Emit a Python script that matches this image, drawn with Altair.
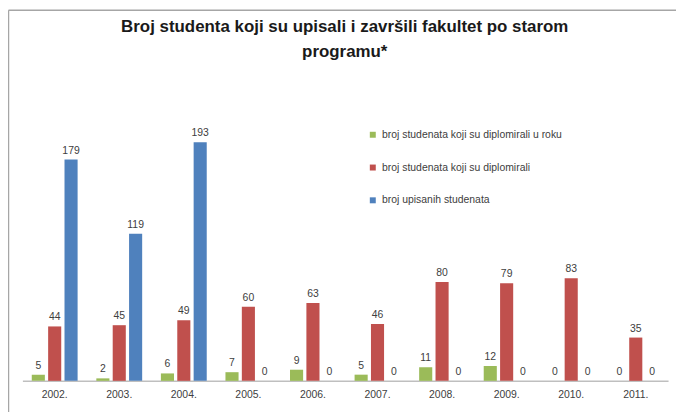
import altair as alt
import pandas as pd

years = ["2002.", "2003.", "2004.", "2005.", "2006.", "2007.", "2008.", "2009.", "2010.", "2011."]
series_names = [
    "broj studenata koji su diplomirali u roku",
    "broj studenata koji su diplomirali",
    "broj upisanih studenata",
]
u_roku = [5, 2, 6, 7, 9, 5, 11, 12, 0, 0]
diplomirali = [44, 45, 49, 60, 63, 46, 80, 79, 83, 35]
upisani = [179, 119, 193, 0, 0, 0, 0, 0, 0, 0]
colors = ["#9BBB59", "#C0504D", "#4F81BD"]
title_lines = ["Broj studenta koji su upisali i završili fakultet po starom", "programu*"]

rows = []
for s, vals in zip(series_names, [u_roku, diplomirali, upisani]):
    for yr, v in zip(years, vals):
        rows.append({"godina": yr, "serija": s, "broj": v})
df = pd.DataFrame(rows)
one = pd.DataFrame({"k": [0]})

FONT = "Liberation Sans"

x = alt.X(
    "godina:N", sort=years, title=None,
    scale=alt.Scale(paddingInner=0.29, paddingOuter=0.145),
    axis=alt.Axis(labelAngle=0, labelFontSize=10.5, labelColor="#404040", labelFont=FONT,
                  ticks=False, tickSize=0, labelPadding=9, domainColor="#bfbfbf",
                  domainWidth=1.5, grid=False),
)
xo = alt.XOffset("serija:N", sort=series_names, scale=alt.Scale(paddingInner=0.2, paddingOuter=0))
y = alt.Y("broj:Q", scale=alt.Scale(domain=[0, 200]), axis=None)
color = alt.Color(
    "serija:N", sort=series_names,
    scale=alt.Scale(domain=series_names, range=colors),
    legend=alt.Legend(title=None, orient="none", legendX=347.5, legendY=-4,
                      symbolType="square", symbolSize=36, symbolStrokeWidth=0,
                      labelFontSize=10.5, labelFont=FONT, labelColor="#404040",
                      rowPadding=22, labelOffset=4, direction="vertical", labelLimit=400),
)

base = alt.Chart(df)
bars = base.mark_bar().encode(x=x, xOffset=xo, y=y, color=color)
labels = base.mark_text(baseline="alphabetic", dy=-6, fontSize=10.5, color="#404040", font=FONT).encode(
    x=x, xOffset=xo, y=y, text="broj:Q"
)

title = alt.Chart(one).mark_text(
    text=title_lines, fontSize=17, fontWeight="bold", font=FONT, color="#1a1a1a",
    lineHeight=25, baseline="middle", align="center"
).encode(x=alt.value(324.5), y=alt.value(-107))

frame_top = alt.Chart(one).mark_rule(color="#a6a6a6", strokeWidth=1.5).encode(
    x=alt.value(-14), x2=alt.value(670), y=alt.value(-124)
)
frame_left = alt.Chart(one).mark_rule(color="#a6a6a6", strokeWidth=1.5).encode(
    x=alt.value(-14), y=alt.value(-124), y2=alt.value(300)
)

chart = alt.layer(frame_top, frame_left, bars, labels, title).properties(
    width=650, height=249,
    autosize=alt.AutoSizeParams(type="none"),
    padding={"left": 14.5, "top": 125, "right": 8, "bottom": 30},
).configure_view(stroke=None)

chart.save("out.html", embed_options={"renderer": "svg", "actions": False})
